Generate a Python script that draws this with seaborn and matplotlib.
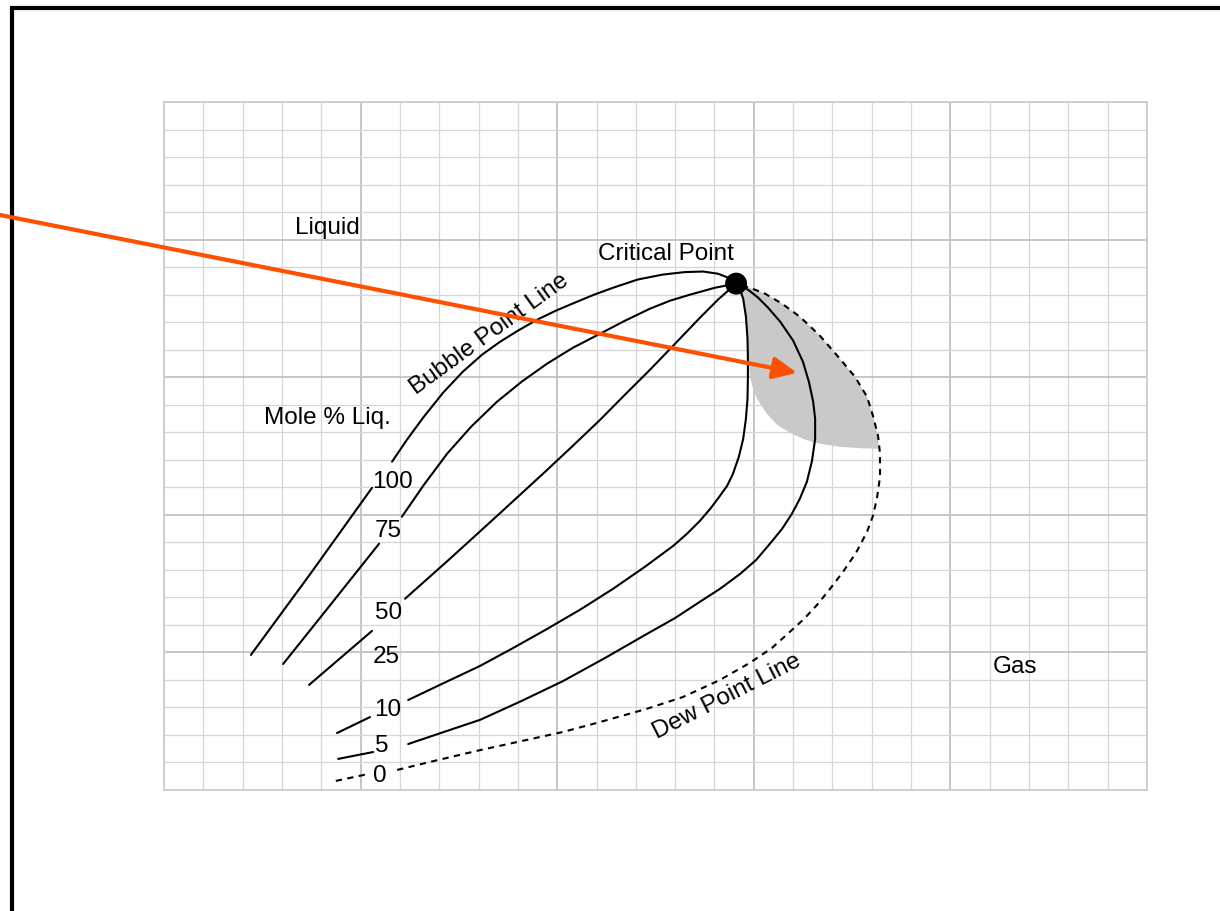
import pandas as pd
import matplotlib
matplotlib.use("Agg")
import matplotlib.pyplot as plt
import seaborn as sns
from matplotlib.patches import Rectangle
from matplotlib.ticker import MultipleLocator

# phase envelope sketch, drawn on a 25 x 25 cell grid (no real units)
crit_x, crit_y = 14.55, 18.40

# quality lines, mole % liquid (first n_stub points sit left of the number label)
q100_x = [2.21, 3.74, 5.29, 5.80, 6.18, 6.59, 7.10, 7.60, 8.09, 8.55, 9.00, 9.49, 9.97, 10.45, 10.94,
          11.42, 12.05, 12.69, 13.25, 13.71, 14.09, 14.34, 14.55]
q100_y = [4.91, 7.89, 10.98, 11.93, 12.73, 13.53, 14.44, 15.20, 15.82, 16.29, 16.69, 17.09, 17.42, 17.71, 18.00,
          18.25, 18.55, 18.73, 18.82, 18.84, 18.76, 18.62, 18.40]

q75_x = [3.03, 4.25, 5.47, 6.05, 6.61, 7.20, 7.81, 8.47, 9.10, 9.74, 10.40, 11.09, 11.72, 12.36, 12.87,
         13.38, 14.01, 14.55]
q75_y = [4.58, 6.76, 8.95, 9.93, 11.09, 12.22, 13.20, 14.11, 14.84, 15.49, 16.07, 16.58, 17.05, 17.49, 17.78,
         18.00, 18.25, 18.40]

q50_x = [3.69, 5.29, 6.13, 7.27, 8.47, 9.69, 10.40, 11.09, 11.72, 12.36, 13.00, 13.63, 14.09, 14.55]
q50_y = [3.82, 5.78, 6.95, 8.40, 9.96, 11.56, 12.51, 13.45, 14.36, 15.27, 16.22, 17.16, 17.82, 18.40]

q10_x = [4.40, 5.24, 6.21, 7.12, 8.04, 8.88, 9.74, 10.58, 11.42, 12.23, 12.95, 13.30, 13.63, 13.91, 14.14,
         14.32, 14.47, 14.62, 14.73, 14.80, 14.84, 14.85, 14.85, 14.84, 14.80, 14.73, 14.65, 14.55]
q10_y = [2.07, 2.65, 3.27, 3.89, 4.51, 5.16, 5.85, 6.55, 7.31, 8.11, 8.87, 9.31, 9.78, 10.25, 10.69,
         11.05, 11.49, 12.11, 12.76, 13.49, 14.22, 14.95, 15.67, 16.40, 17.20, 17.85, 18.18, 18.40]

q5_x = [4.43, 5.32, 6.21, 7.12, 8.04, 9.10, 10.15, 11.22, 12.28, 13.00, 13.63, 14.14, 14.65, 15.06, 15.41,
        15.72, 15.97, 16.17, 16.35, 16.48, 16.56, 16.56, 16.51, 16.40, 16.25, 16.00, 15.67, 15.36, 15.11,
        14.88, 14.73, 14.55]
q5_y = [1.13, 1.38, 1.67, 2.11, 2.55, 3.24, 3.96, 4.80, 5.67, 6.25, 6.84, 7.31, 7.85, 8.36, 8.95,
        9.49, 10.04, 10.58, 11.20, 11.96, 12.76, 13.49, 14.11, 14.84, 15.56, 16.33, 17.02, 17.53, 17.89,
        18.15, 18.29, 18.40]

dew_x = [4.37, 5.19, 5.93, 6.97, 8.04, 9.10, 10.15, 11.09, 12.28, 13.20, 14.14, 14.90, 15.46, 15.92, 16.28,
         16.61, 16.94, 17.27, 17.60, 17.88, 18.03, 18.13, 18.21, 18.21, 18.16, 18.03, 17.88, 17.57, 17.19,
         16.68, 16.17, 15.72, 15.28, 14.90, 14.55]
dew_y = [0.33, 0.58, 0.73, 1.09, 1.45, 1.78, 2.11, 2.47, 2.95, 3.38, 4.00, 4.62, 5.16, 5.75, 6.22,
         6.73, 7.31, 7.93, 8.62, 9.38, 9.96, 10.58, 11.38, 12.22, 12.87, 13.60, 14.29, 15.02, 15.67,
         16.51, 17.20, 17.67, 18.04, 18.25, 18.40]

n_stub = {"100": 3, "75": 3, "50": 2, "10": 2, "5": 2, "0": 2}

# retrograde region
shade_x = [14.55, 14.65, 14.73, 14.80, 14.84, 14.86, 14.90, 14.98, 15.08, 15.31, 15.59, 15.92, 16.30, 16.68,
           17.19, 17.70, 18.18, 18.16, 18.03, 17.88, 17.57, 17.19, 16.68, 16.17, 15.72, 15.28, 14.90]
shade_y = [18.40, 18.18, 17.85, 17.20, 16.40, 15.67, 15.05, 14.58, 14.22, 13.71, 13.27, 12.98, 12.73, 12.58,
           12.47, 12.42, 12.40, 12.87, 13.60, 14.29, 15.02, 15.67, 16.51, 17.20, 17.67, 18.04, 18.25]

# number labels
num_labels = ["100", "75", "50", "25", "10", "5", "0"]
num_x = [5.82, 5.70, 5.70, 5.65, 5.70, 5.54, 5.49]
num_y = [11.24, 9.45, 6.45, 4.87, 2.95, 1.63, 0.55]


def build(curves):
    rows = []
    for name, (xs, ys) in curves.items():
        for i, (x, y) in enumerate(zip(xs, ys)):
            seg = 0 if i < n_stub[name] else 1
            rows.append({"T": x, "P": y, "part": f"{name}_{seg}"})
    return pd.DataFrame(rows)


solid = build({"100": (q100_x, q100_y), "75": (q75_x, q75_y), "50": (q50_x, q50_y),
               "10": (q10_x, q10_y), "5": (q5_x, q5_y)})
dashed = build({"0": (dew_x, dew_y)})

sns.set_theme(style="white")
plt.rcParams["font.family"] = ["Liberation Sans", "DejaVu Sans"]

fig = plt.figure(figsize=(12.2, 9.12), dpi=100)
ax = fig.add_axes([164 / 1220, 121 / 912, 983 / 1220, 688 / 912])

ax.set_xlim(0, 25)
ax.set_ylim(0, 25)
ax.xaxis.set_major_locator(MultipleLocator(5))
ax.xaxis.set_minor_locator(MultipleLocator(1))
ax.yaxis.set_major_locator(MultipleLocator(5))
ax.yaxis.set_minor_locator(MultipleLocator(1))
ax.grid(which="minor", color="#d6d6d6", lw=0.9)
ax.grid(which="major", color="#c2c2c2", lw=1.3)
ax.tick_params(which="both", length=0, labelbottom=False, labelleft=False)
ax.set_axisbelow(True)
for s in ax.spines.values():
    s.set_color("#cccccc")
    s.set_linewidth(1.2)

ax.fill(shade_x, shade_y, color="#c9c9c9", lw=0, zorder=1)

sns.lineplot(data=solid, x="T", y="P", units="part", estimator=None, sort=False,
             color="black", lw=1.5, ax=ax, zorder=3)
sns.lineplot(data=dashed, x="T", y="P", units="part", estimator=None, sort=False,
             color="black", lw=1.5, linestyle=(0, (3, 2.6)), ax=ax, zorder=3)

sns.scatterplot(x=[crit_x], y=[crit_y], s=250, color="black", edgecolor="none", ax=ax, zorder=5)

fs = 17.5
ink = "#000000"
for lab, x, y in zip(num_labels, num_x, num_y):
    ax.text(x, y, lab, ha="center", va="center", fontsize=fs, color=ink)

ax.text(4.15, 20.44, "Liquid", ha="center", va="center", fontsize=fs, color=ink)
ax.text(12.77, 19.53, "Critical Point", ha="center", va="center", fontsize=fs, color=ink)
ax.text(4.15, 13.56, "Mole % Liq.", ha="center", va="center", fontsize=fs, color=ink)
ax.text(21.64, 4.51, "Gas", ha="center", va="center", fontsize=fs, color=ink)
ax.text(8.27, 16.60, "Bubble Point Line", ha="center", va="center", rotation=36,
        rotation_mode="anchor", fontsize=fs, color=ink)
ax.text(14.31, 3.42, "Dew Point Line", ha="center", va="center", rotation=27,
        rotation_mode="anchor", fontsize=fs, color=ink)

ax.set_xlabel("Temperature", fontsize=20, color=ink, va="center")
ax.xaxis.set_label_coords(0.459, -0.086)
ax.set_ylabel("Pressure", fontsize=20, color=ink, va="center", ha="center")
ax.yaxis.set_label_coords(-0.062, 0.544)

# orange pointer into the shaded zone
ax.annotate("", xy=(16.10, 15.16), xycoords="data",
            xytext=(0, 1 - 216 / 912), textcoords="figure fraction",
            arrowprops=dict(arrowstyle="-|>,head_length=0.65,head_width=0.3",
                            color="#ff5000", lw=3, mutation_scale=22,
                            shrinkA=0, shrinkB=0),
            annotation_clip=False, zorder=10)

# black frame of the original slide
fig.add_artist(Rectangle((12 / 1220, -0.1), 1.2, 0.1 + (912 - 9) / 912, fill=False,
                         ec="black", lw=3, transform=fig.transFigure, zorder=-1))

fig.savefig("out.png", dpi=100)
